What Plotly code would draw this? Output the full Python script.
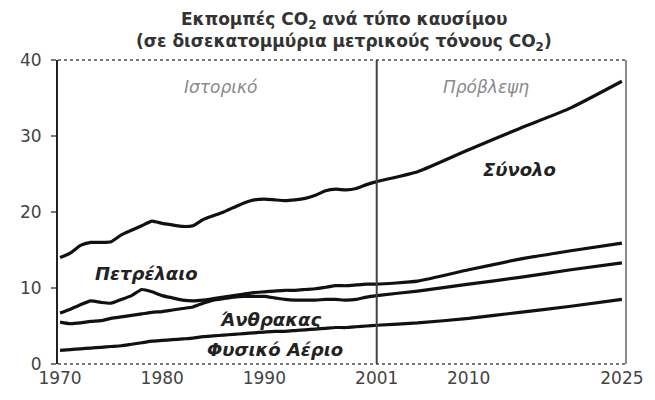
"""
Εκπομπές CO2 ανά τύπο καυσίμου: ιστορικό 1970-2001 και πρόβλεψη ως το 2025.
"""
import plotly.graph_objects as go

# --- data (billion metric tons CO2) ---
years_hist = list(range(1970, 2002))
years_proj = [2005, 2010, 2015, 2020, 2025]
years = years_hist + years_proj

total = [14.0, 14.6, 15.6, 16.0, 16.0, 16.1, 17.0, 17.6, 18.2, 18.8,
         18.5, 18.3, 18.1, 18.2, 19.0, 19.5, 20.0, 20.6, 21.2, 21.6,
         21.7, 21.6, 21.5, 21.6, 21.8, 22.2, 22.8, 23.0, 22.9, 23.1,
         23.6, 24.0,
         25.3, 28.2, 31.0, 33.7, 37.2]
oil = [6.7, 7.2, 7.8, 8.3, 8.1, 8.0, 8.5, 9.0, 9.8, 9.5,
       9.0, 8.7, 8.4, 8.3, 8.4, 8.6, 8.8, 9.0, 9.2, 9.4,
       9.5, 9.6, 9.7, 9.7, 9.8, 9.9, 10.1, 10.3, 10.3, 10.4,
       10.5, 10.5,
       10.9, 12.4, 13.8, 14.9, 15.9]
coal = [5.5, 5.3, 5.4, 5.6, 5.7, 6.0, 6.2, 6.4, 6.6, 6.8,
        6.9, 7.1, 7.3, 7.5, 8.0, 8.4, 8.6, 8.8, 8.9, 8.9,
        8.9, 8.7, 8.5, 8.4, 8.4, 8.4, 8.5, 8.5, 8.4, 8.5,
        8.8, 9.0,
        9.6, 10.5, 11.4, 12.4, 13.3]
gas = [1.8, 1.9, 2.0, 2.1, 2.2, 2.3, 2.4, 2.6, 2.8, 3.0,
       3.1, 3.2, 3.3, 3.4, 3.6, 3.7, 3.8, 3.9, 4.0, 4.1,
       4.2, 4.3, 4.3, 4.4, 4.5, 4.6, 4.7, 4.8, 4.8, 4.9,
       5.0, 5.1,
       5.4, 6.0, 6.8, 7.6, 8.5]

x_ticks = [1970, 1980, 1990, 2001, 2010, 2025]
y_ticks = [0, 10, 20, 30, 40]
split_year = 2001

# series labels: (text, x, y)
series_labels = [
    ('Σύνολο', 2015.0, 25.6),
    ('Πετρέλαιο', 1978.5, 11.9),
    ('Άνθρακας', 1990.6, 5.8),
    ('Φυσικό Αέριο', 1991.0, 1.9),
]
period_labels = [
    ('Ιστορικό', 1985.7, 36.4),
    ('Πρόβλεψη', 2011.7, 36.4),
]

FONT = 'DejaVu Sans'
BLACK = '#111111'
GREY = '#555555'

fig = go.Figure()
for vals in (total, oil, coal, gas):
    fig.add_trace(go.Scatter(
        x=years, y=vals,
        mode='lines',
        line=dict(color=BLACK, width=3.2, shape='spline', smoothing=0.5),
        showlegend=False,
        hoverinfo='skip',
    ))

for text, x, y in series_labels:
    fig.add_annotation(
        x=x, y=y, text=f'<b><i>{text}</i></b>', showarrow=False,
        font=dict(family=FONT, size=18, color='#222'),
    )
for text, x, y in period_labels:
    fig.add_annotation(
        x=x, y=y, text=f'<i>{text}</i>', showarrow=False,
        font=dict(family=FONT, size=17, color='#8a8a8a'),
    )

# two-line title
fig.add_annotation(
    xref='paper', yref='paper', x=0.503, y=1.129, yanchor='middle',
    text='<b>Εκπομπές CO<sub>2</sub> ανά τύπο καυσίμου</b>', showarrow=False,
    font=dict(family=FONT, size=17, color='#333'),
)
fig.add_annotation(
    xref='paper', yref='paper', x=0.503, y=1.058, yanchor='middle',
    text='<b>(σε δισεκατομμύρια μετρικούς τόνους CO<sub>2</sub>)</b>',
    showarrow=False,
    font=dict(family=FONT, size=17, color='#333'),
)

# frame: dotted top / bottom, grey right edge, divider at 2001
fig.add_shape(type='line', xref='paper', yref='paper', x0=0, x1=1, y0=1, y1=1,
              line=dict(color='#777', width=2, dash='dot'))
fig.add_shape(type='line', xref='paper', yref='paper', x0=0, x1=1, y0=0, y1=0,
              line=dict(color='#777', width=2, dash='dot'))
fig.add_shape(type='line', xref='paper', yref='paper', x0=1, x1=1, y0=0, y1=1,
              line=dict(color='#666', width=1.5))
fig.add_shape(type='line', xref='x', yref='paper', x0=split_year, x1=split_year,
              y0=0, y1=1, line=dict(color='#444', width=2))

# the page body has an 8px margin, so the figure is 8px smaller than the window
fig.update_layout(
    width=647, height=392,
    paper_bgcolor='white', plot_bgcolor='white',
    margin=dict(t=52, b=30, l=47, r=25),
    font=dict(family=FONT, color=GREY),
    xaxis=dict(
        range=[1969.8, 2025.4],
        tickvals=x_ticks, ticktext=[str(v) for v in x_ticks],
        showgrid=False, zeroline=False, showline=False,
        ticks='', ticklabelstandoff=2,
        tickfont=dict(size=17, color='#444'),
    ),
    yaxis=dict(
        range=[0, 40],
        tickvals=y_ticks,
        showgrid=False, zeroline=False,
        showline=True, linecolor='#222', linewidth=2,
        ticks='outside', ticklen=5, tickcolor='#777', tickwidth=1.5,
        ticklabelstandoff=6,
        tickfont=dict(size=17, color='#444'),
    ),
)

fig.write_html("out.html")
